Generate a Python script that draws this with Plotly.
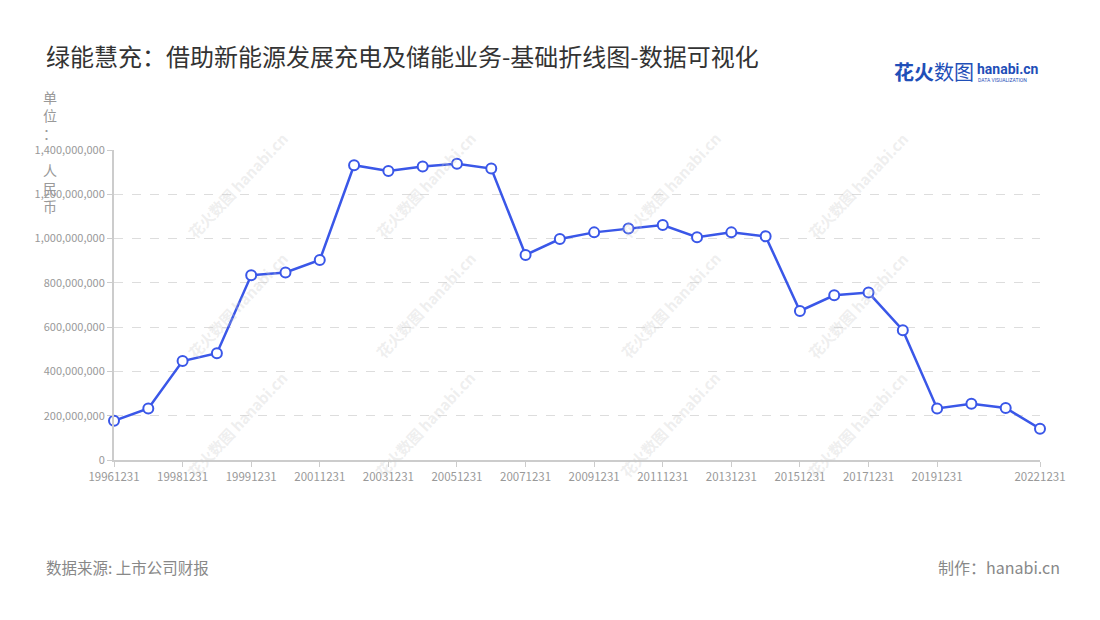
import plotly.graph_objects as go

# 报告期
dates = ["19961231", "19971231", "19981231", "19990630", "19991231", "20001231",
         "20011231", "20021231", "20031231", "20041231", "20051231", "20061231",
         "20071231", "20081231", "20091231", "20101231", "20111231", "20121231",
         "20131231", "20141231", "20151231", "20161231", "20171231", "20181231",
         "20191231", "20201231", "20211231", "20221231"]
# 金额（人民币）
values = [177e6, 233e6, 447e6, 482e6, 834e6, 847e6, 903e6, 1331e6, 1305e6, 1325e6,
          1338e6, 1316e6, 926e6, 998e6, 1028e6, 1046e6, 1061e6, 1006e6, 1028e6,
          1010e6, 673e6, 744e6, 756e6, 586e6, 233e6, 254e6, 235e6, 141e6]
tick_dates = ["19961231", "19981231", "19991231", "20011231", "20031231", "20051231",
              "20071231", "20091231", "20111231", "20131231", "20151231", "20171231",
              "20191231", "20221231"]
y_ticks = [0, 200e6, 400e6, 600e6, 800e6, 1000e6, 1200e6, 1400e6]

title = "绿能慧充：借助新能源发展充电及储能业务-基础折线图-数据可视化"
source = "数据来源: 上市公司财报"
credit = "制作：hanabi.cn"

FONT = "Noto Sans CJK SC"
BLUE = "#3a57e8"

# page offset (body margin) and plot area in page pixels
OFF = 8
L, R, T, B = 114, 1040, 150, 460
W, H = 1092, 612


def px(x):
    return (x - L) / (R - L)


def py(y):
    return (B - y) / (B - T)


fig = go.Figure()
fig.add_trace(go.Scatter(
    x=dates, y=values, mode="lines+markers",
    line=dict(color=BLUE, width=2.5),
    marker=dict(size=10, color="white", line=dict(color=BLUE, width=2)),
    cliponaxis=False, hoverinfo="x+y",
))

annotations = []
# watermarks
for wx in [180, 425, 670, 915]:
    for wy in [125, 305, 485]:
        annotations.append(dict(
            x=px(wx), y=py(wy), xref="paper", yref="paper",
            text="<b>花火数图 hanabi.cn</b>", showarrow=False,
            textangle=-47, font=dict(family=FONT, size=15, color="rgba(200,200,200,0.3)"),
        ))

annotations += [
    dict(x=px(44), y=py(55), xref="paper", yref="paper", xanchor="left", yanchor="middle",
         text=title, showarrow=False, font=dict(family=FONT, size=24, color="#333333")),
    dict(x=px(50), y=py(85), xref="paper", yref="paper", xanchor="center", yanchor="top",
         text="单<br>位<br>：<br> <br>人<br>民<br>币", showarrow=False,
         font=dict(family=FONT, size=14, color="#999999")),
    dict(x=px(44), y=py(567), xref="paper", yref="paper", xanchor="left", yanchor="middle",
         text=source, showarrow=False, font=dict(family=FONT, size=15.5, color="#888888")),
    dict(x=px(1062), y=py(567), xref="paper", yref="paper", xanchor="right", yanchor="middle",
         text=credit, showarrow=False, font=dict(family=FONT, size=16, color="#888888")),
    # logo
    dict(x=px(892), y=py(72), xref="paper", yref="paper", xanchor="left", yanchor="middle",
         text="<b>花火</b>数图", showarrow=False, font=dict(family=FONT, size=20, color="#1f4fb8")),
    dict(x=px(975), y=py(69), xref="paper", yref="paper", xanchor="left", yanchor="middle",
         text="<b>hanabi.cn</b>", showarrow=False, font=dict(family="Roboto", size=14, color="#1f4fb8")),
    dict(x=px(976), y=py(80), xref="paper", yref="paper", xanchor="left", yanchor="middle",
         text="DATA VISUALIZATION", showarrow=False, font=dict(family="Roboto", size=5, color="#1f4fb8")),
]

fig.update_layout(
    width=W, height=H,
    margin=dict(l=L - OFF, r=W - (R - OFF), t=T - OFF, b=H - (B - OFF)),
    paper_bgcolor="white", plot_bgcolor="white",
    showlegend=False,
    font=dict(family=FONT, size=11, color="#999999"),
    annotations=annotations,
    xaxis=dict(
        type="category", range=[0, len(dates) - 1],
        tickmode="array", tickvals=tick_dates, ticktext=tick_dates,
        showgrid=False, showline=True, linecolor="#cccccc", linewidth=2,
        ticks="outside", ticklen=5, tickcolor="#cccccc", tickwidth=1,
        tickfont=dict(size=11.5, color="#999999"), zeroline=False,
    ),
    yaxis=dict(
        range=[0, 1400e6], tickmode="array", tickvals=y_ticks, tickformat=",",
        showgrid=True, gridcolor="#dddddd", griddash="dash", gridwidth=1,
        showline=True, linecolor="#cccccc", linewidth=2,
        ticks="outside", ticklen=5, tickcolor="#cccccc",
        tickfont=dict(size=11, color="#999999"), zeroline=False,
    ),
)

fig.write_html("out.html")
